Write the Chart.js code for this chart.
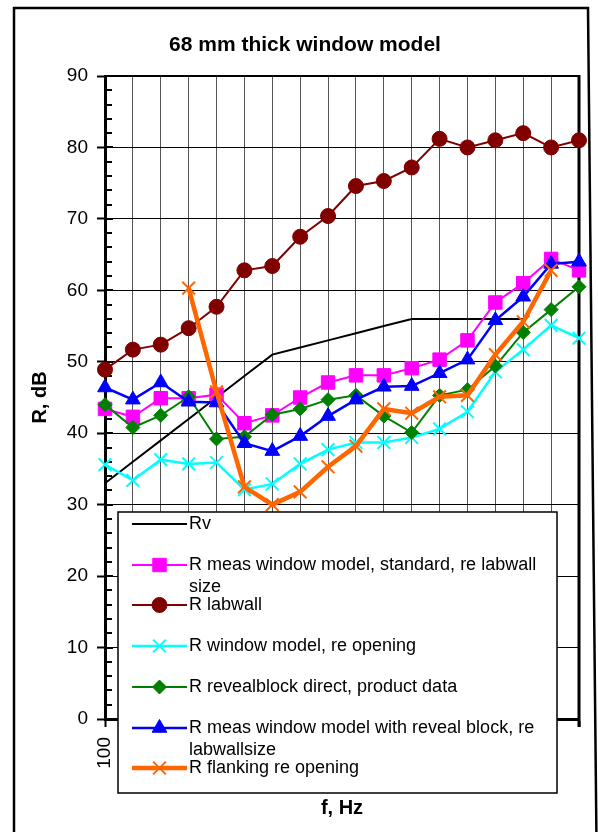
<!DOCTYPE html>
<html>
<head>
<meta charset="utf-8">
<title>68 mm thick window model</title>
<script src="https://cdn.jsdelivr.net/npm/chart.js@4.4.1/dist/chart.umd.min.js"></script>
<style>
    html, body { margin: 0; padding: 0; background: #fff; }
    #wrap { width: 598px; height: 832px; }
</style>
</head>
<body>
<div id="wrap"><canvas id="myChart" width="598" height="832"></canvas></div>
<script>
// 1/3 octave bands, Hz
let frequencies = ['100', '125', '160', '200', '250', '315', '400', '500', '630', '800',
    '1000', '1250', '1600', '2000', '2500', '3150', '4000', '5000'];

let rv = [33, 36, 39, 42, 45, 48, 51, 52, 53, 54, 55, 56, 56, 56, 56, 56, null, null];
let measStandard = [43.4, 42.3, 44.9, 44.9, 45.4, 41.4, 42.5, 45.0, 47.1, 48.1, 48.1, 49.1, 50.3, 53.0, 58.3, 61.0, 64.4, 62.8];
let labwall = [48.9, 51.7, 52.4, 54.7, 57.7, 62.8, 63.4, 67.5, 70.4, 74.6, 75.3, 77.2, 81.2, 80.0, 81.0, 82.0, 80.0, 81.0];
let windowModel = [35.6, 33.4, 36.3, 35.7, 35.9, 32.1, 32.9, 35.7, 37.7, 38.7, 38.7, 39.4, 40.6, 43.0, 48.6, 51.7, 55.1, 53.3];
let revealBlock = [44.0, 40.8, 42.5, 45.1, 39.2, 39.5, 42.6, 43.4, 44.7, 45.3, 42.4, 40.1, 45.3, 46.1, 49.4, 54.1, 57.3, 60.5];
let measReveal = [46.4, 44.7, 47.1, 44.4, 44.3, 38.6, 37.5, 39.6, 42.4, 44.7, 46.5, 46.6, 48.4, 50.3, 55.8, 59.1, 63.7, 64.0];
let flanking = [null, null, null, 60.3, 45.8, 32.5, 30.0, 31.8, 35.3, 38.2, 43.4, 42.8, 45.1, 45.3, 51.0, 55.6, 62.8, null];

let yMin = 0;
let yMax = 90;
let yStep = 10;
let yMinorStep = 2;

let fontFamily = '"Liberation Sans", Arial, Helvetica, sans-serif';
Chart.defaults.font.family = fontFamily;
Chart.defaults.color = '#000';

let ctx = document.getElementById('myChart').getContext('2d');

let makeSeries = (label, data, color, pointStyle, radius, lineWidth, order) => ({
    label: label,
    data: data,
    borderColor: color,
    backgroundColor: color,
    pointBackgroundColor: color,
    pointBorderColor: color,
    pointStyle: pointStyle,
    pointRadius: radius,
    pointHoverRadius: radius,
    pointBorderWidth: pointStyle === 'crossRot' ? 2 : 1,
    borderWidth: lineWidth,
    tension: 0,
    clip: false,
    order: order
});

let data = {
    labels: frequencies,
    datasets: [
        makeSeries('Rv', rv, '#000000', false, 0, 2, 7),
        makeSeries('R meas window model, standard, re labwall size', measStandard, '#FF00FF', 'rect', 9.5, 2, 6),
        makeSeries('R labwall', labwall, '#800000', 'circle', 7.5, 2, 5),
        makeSeries('R window model, re opening', windowModel, '#00FFFF', 'crossRot', 9, 2.5, 4),
        makeSeries('R revealblock direct, product data', revealBlock, '#008000', 'rectRot', 7, 2, 3),
        makeSeries('R meas window model with reveal block, re labwallsize', measReveal, '#0000FF', 'triangle', 8.5, 2.5, 2),
        makeSeries('R flanking re opening', flanking, '#FF6600', 'crossRot', 9, 4.5, 1)
    ]
};

// white page, outer frame and the title
let frameAndTitle = {
    id: 'frameAndTitle',
    beforeDraw(chart) {
        let c = chart.ctx;
        c.save();
        c.fillStyle = '#fff';
        c.fillRect(0, 0, chart.width, chart.height);
        c.strokeStyle = '#000';
        c.lineWidth = 2.5;
        c.beginPath();
        c.moveTo(14, chart.height + 10);
        c.lineTo(14, 8);
        c.lineTo(588, 8);
        c.lineTo(596.5, chart.height + 10);
        c.stroke();
        c.fillStyle = '#000';
        c.font = 'bold 21px ' + fontFamily;
        c.textAlign = 'center';
        c.textBaseline = 'middle';
        c.fillText('68 mm thick window model', 305, 45);
        c.restore();
    }
};

// minor ticks on the value axis, top and right edge of the plot
let plotEdges = {
    id: 'plotEdges',
    beforeDatasetsDraw(chart) {
        let c = chart.ctx;
        let area = chart.chartArea;
        let yScale = chart.scales.y;
        c.save();
        c.strokeStyle = '#000';
        c.lineWidth = 2;
        for (let v = yMin; v <= yMax; v += yMinorStep) {
            let y = Math.round(yScale.getPixelForValue(v));
            let len = v % yStep === 0 ? 8 : 7;
            c.beginPath();
            c.moveTo(area.left, y);
            c.lineTo(area.left + len, y);
            c.stroke();
        }
        c.lineWidth = 2;
        c.beginPath();
        c.moveTo(area.left, area.top);
        c.lineTo(area.right, area.top);
        c.stroke();
        c.lineWidth = 3;
        c.beginPath();
        c.moveTo(area.right, area.top - 1);
        c.lineTo(area.right, area.bottom + 8);
        c.stroke();
        c.restore();
    }
};

let wrapText = (c, text, maxWidth) => {
    let words = text.split(' ');
    let lines = [];
    let line = '';
    words.forEach(w => {
        let test = line ? line + ' ' + w : w;
        if (line && c.measureText(test).width > maxWidth) {
            lines.push(line);
            line = w;
        } else {
            line = test;
        }
    });
    lines.push(line);
    return lines;
};

// Excel style legend box sitting over the lower part of the plot
let legendBox = {
    id: 'legendBox',
    afterDraw(chart) {
        let c = chart.ctx;
        let left = 118, top = 512, right = 557, bottom = 793;
        c.save();
        c.fillStyle = '#fff';
        c.fillRect(left, top, right - left, bottom - top);
        c.strokeStyle = '#000';
        c.lineWidth = 1.5;
        c.strokeRect(left, top, right - left, bottom - top);

        c.font = '18px ' + fontFamily;
        c.textAlign = 'left';
        c.textBaseline = 'middle';
        chart.data.datasets.forEach((ds, i) => {
            let y = Math.round(524 + i * 40.7);
            c.strokeStyle = ds.borderColor;
            c.lineWidth = ds.borderWidth;
            c.beginPath();
            c.moveTo(132, y);
            c.lineTo(187, y);
            c.stroke();
            if (ds.pointStyle) {
                c.fillStyle = ds.pointBackgroundColor;
                c.strokeStyle = ds.pointBorderColor;
                c.lineWidth = ds.pointBorderWidth;
                Chart.helpers.drawPoint(c, {
                    pointStyle: ds.pointStyle,
                    radius: ds.pointRadius,
                    rotation: 0,
                    borderWidth: ds.pointBorderWidth
                }, 159.5, y);
            }
            c.fillStyle = '#000';
            let lines = wrapText(c, ds.label, 364);
            lines.forEach((t, k) => c.fillText(t, 189, y + k * 22));
        });
        c.restore();
    }
};

let myChart = new Chart(ctx, {
    type: 'line',
    data: data,
    options: {
        responsive: false,
        animation: false,
        devicePixelRatio: 1,
        layout: { padding: { top: 76, right: 19, left: 0, bottom: 0 } },
        plugins: {
            legend: { display: false },
            title: { display: false },
            tooltip: { enabled: false }
        },
        scales: {
            x: {
                type: 'category',
                grid: { color: '#555', lineWidth: 1, tickLength: 8, tickColor: '#000', tickWidth: 2 },
                border: { color: '#000', width: 3 },
                ticks: {
                    autoSkip: false, minRotation: 90, maxRotation: 90, padding: 10, color: '#000', font: { size: 19 },
                    // the last band is not labelled in the original
                    callback: function (value, index) {
                        return index === frequencies.length - 1 ? '' : this.getLabelForValue(value);
                    }
                },
                title: { display: true, text: 'f, Hz', color: '#000', font: { size: 20, weight: 'bold' }, padding: { top: 0, bottom: 12 } },
                afterFit: s => { s.height = 113; s.paddingRight = 0; }
            },
            y: {
                min: yMin,
                max: yMax,
                grid: { color: '#000', lineWidth: 1, tickLength: 8, tickColor: '#000', tickWidth: 2 },
                border: { color: '#000', width: 3 },
                ticks: { stepSize: yStep, padding: 9, color: '#000', font: { size: 19 } },
                title: { display: true, text: 'R, dB', color: '#000', font: { size: 20, weight: 'bold' }, padding: { top: 28, bottom: 0 } },
                afterFit: s => { s.width = 105; }
            }
        }
    },
    plugins: [frameAndTitle, plotEdges, legendBox]
});
</script>
</body>
</html>
